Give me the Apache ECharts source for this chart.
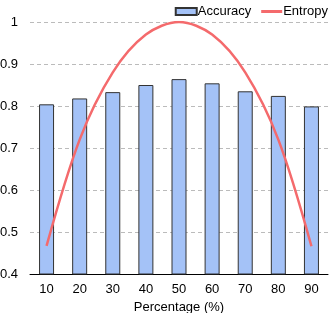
<!DOCTYPE html>
<html><head><meta charset="utf-8">
<script src="https://cdn.jsdelivr.net/npm/echarts@6/dist/echarts.min.js"></script>
<style>html,body{margin:0;padding:0;background:#fff}#c{width:333px;height:313px}</style>
</head><body><div id="c"></div>
<script>
const categories = ['10','20','30','40','50','60','70','80','90'];
const accuracy = [0.804, 0.818, 0.833, 0.850, 0.864, 0.854, 0.835, 0.824, 0.799];
const entropy = [0.467, 0.72, 0.88, 0.97, 1.0, 0.97, 0.88, 0.72, 0.466];
const yTicks = {min: 0.4, max: 1, interval: 0.1};

const chart = echarts.init(document.getElementById('c'), null, {renderer: 'canvas'});
const font = 'Liberation Sans';
chart.setOption({
  animation: false,
  textStyle: {fontFamily: font},
  legend: {
    right: 0, top: 0,
    itemWidth: 21, itemHeight: 7, itemGap: 10,
    textStyle: {fontFamily: font, fontSize: 13, color: '#000', padding: [0,0,0,-4]},
    data: [
      {name: 'Accuracy', icon: 'rect'},
      {name: 'Entropy', icon: 'path://M0,0 L21,0 L21,3 L0,3 Z'}
    ]
  },
  grid: {left: 30, right: 5, top: 22, bottom: 39, containLabel: false, outerBoundsMode: 'none'},
  xAxis: {
    type: 'category', data: categories,
    name: 'Percentage (%)', nameLocation: 'middle', nameGap: 21,
    nameTextStyle: {fontFamily: font, fontSize: 13, color: '#000'},
    axisLine: {lineStyle: {color: '#000', width: 1}},
    axisTick: {show: false},
    axisLabel: {fontFamily: font, fontSize: 13, color: '#000', margin: 9}
  },
  yAxis: {
    type: 'value', min: yTicks.min, max: yTicks.max, interval: yTicks.interval,
    axisLine: {show: false}, axisTick: {show: false},
    axisLabel: {fontFamily: font, fontSize: 13, color: '#000', margin: 12},
    splitLine: {lineStyle: {color: '#bbb', type: [4, 3], width: 1}}
  },
  series: [
    {
      name: 'Accuracy', type: 'bar', data: accuracy, barWidth: 15,
      itemStyle: {color: '#a4c2f7', borderColor: '#333', borderWidth: 1}
    },
    {
      name: 'Entropy', type: 'line', data: entropy, smooth: 0.33,
      showSymbol: false, symbol: 'none',
      lineStyle: {color: '#f46a6c', width: 2.5},
      itemStyle: {color: '#f46a6c'}
    }
  ]
});
</script></body></html>
